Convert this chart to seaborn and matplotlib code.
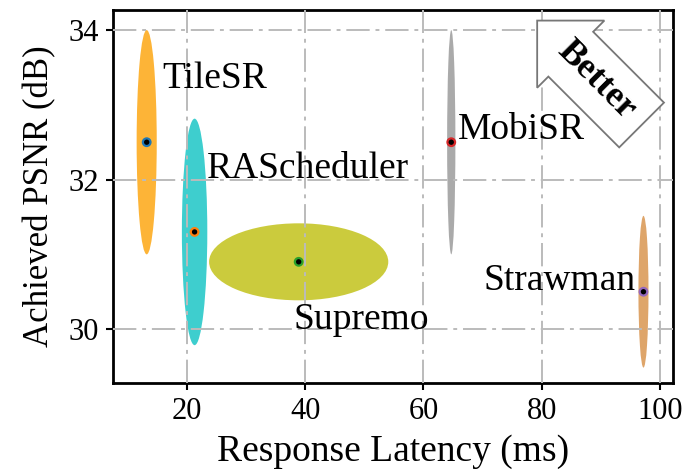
import matplotlib
matplotlib.use("Agg")
import matplotlib.pyplot as plt
from matplotlib.patches import Ellipse
import pandas as pd
import seaborn as sns

# data
methods = ["TileSR", "RAScheduler", "Supremo", "MobiSR", "Strawman"]
latency = [13.2, 21.3, 38.9, 64.7, 97.2]
psnr = [32.5, 31.3, 30.9, 32.5, 30.5]
lat_spread = [3.4, 4.3, 30.3, 1.4, 1.7]
psnr_spread = [3.0, 3.03, 1.03, 3.0, 2.03]
ellipse_colors = ["#FDB02C", "#33CCCC", "#C9C932", "#A6A6A6", "#DDA062"]
dot_colors = ["#1f77b4", "#ff7f0e", "#2ca02c", "#d62728", "#9467bd"]
label_pos = [(15.9, 33.35, "left"), (23.4, 32.15, "left"), (38.0, 30.12, "left"),
             (65.9, 32.66, "left"), (95.8, 30.65, "right")]

df = pd.DataFrame({"method": methods, "latency": latency, "psnr": psnr})

sns.set_style("white")
plt.rcParams["font.family"] = ["Liberation Serif", "DejaVu Serif"]
plt.rcParams["text.color"] = "black"
plt.rcParams["axes.labelcolor"] = "black"

fig = plt.figure(figsize=(6.91, 4.71), dpi=100)
ax = fig.add_axes([0.1635, 0.187, 0.8105, 0.792])

for i in range(len(methods)):
    e = Ellipse((latency[i], psnr[i]), lat_spread[i], psnr_spread[i],
                facecolor=ellipse_colors[i], edgecolor="none", alpha=0.95, zorder=1)
    ax.add_patch(e)

sns.scatterplot(data=df, x="latency", y="psnr", hue="method", palette=dot_colors,
                s=30, linewidth=1.6, legend=False, ax=ax, zorder=4)
# black centres, coloured rims
coll = ax.collections[-1]
coll.set_edgecolors(dot_colors)
coll.set_facecolors("black")

for (x, y, ha), name in zip(label_pos, methods):
    ax.text(x, y, name, fontsize=27, ha=ha, va="center", zorder=5)

ax.text(89.3, 33.33, "Better", fontsize=26, fontweight="bold", rotation=-45,
        ha="center", va="center", zorder=5,
        bbox=dict(boxstyle="larrow,pad=0.42", fc="white", ec="#777777", lw=1.3))

ax.set_xlim(7.5, 102.2)
ax.set_ylim(29.28, 34.27)
ax.set_xticks([20, 40, 60, 80, 100])
ax.set_yticks([30, 32, 34])
ax.grid(True, color="#BBBBBB", linewidth=1.4, linestyle=(0, (12, 3, 2, 3)))
ax.set_axisbelow(False)
for gl in ax.get_xgridlines() + ax.get_ygridlines():
    gl.set_zorder(2)

for s in ax.spines.values():
    s.set_color("black")
    s.set_linewidth(2)
ax.tick_params(axis="both", direction="out", length=5, width=1.5, colors="black",
               labelsize=22, left=True, bottom=True, pad=5)

ax.set_xlabel("Response Latency (ms)", fontsize=27, labelpad=6)
ax.set_ylabel("Achieved PSNR (dB)", fontsize=25, labelpad=9)

fig.savefig("out.png", dpi=100)
